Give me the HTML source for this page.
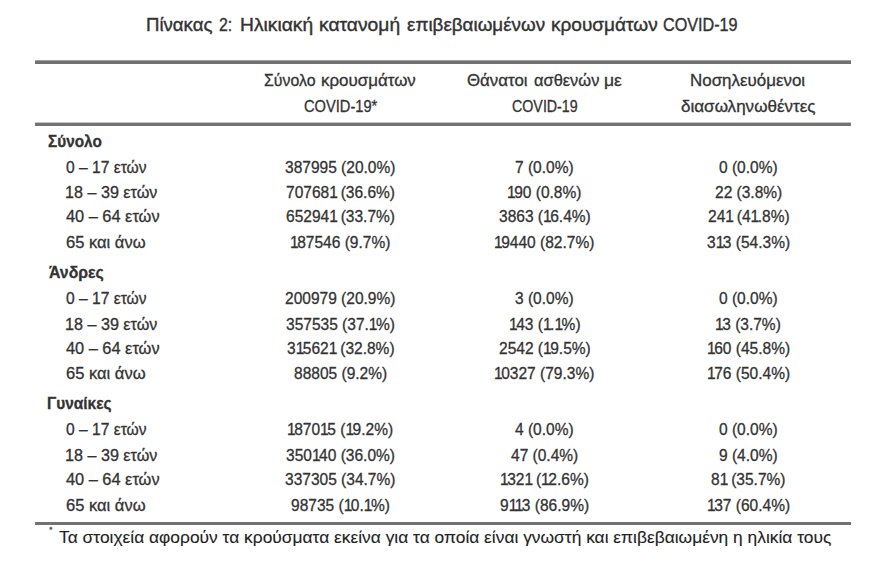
<!DOCTYPE html>
<html><head><meta charset="utf-8"><style>
html,body{margin:0;padding:0;background:#fff;}
body{width:880px;height:565px;position:relative;overflow:hidden;font-family:"Liberation Sans", sans-serif;color:#333333;}
.t{position:absolute;white-space:nowrap;transform-origin:0 0;-webkit-text-stroke:0.3px #333333;}
.ln{position:absolute;}
</style></head><body>
<div class="ln" style="left:35px;top:60px;width:816px;height:4px;background:linear-gradient(#a0a0a0 0,#a0a0a0 1px,#717171 1px);"></div><div class="ln" style="left:35px;top:122px;width:816px;height:4px;background:linear-gradient(#c4c4c4 0,#c4c4c4 1px,#747474 1px);"></div><div class="ln" style="left:35px;top:522px;width:816px;height:3px;background:#727272;"></div>
<div class="t" style="left:146.42px;top:15px;font-size:19px;line-height:19px;-webkit-text-stroke:0.4px #333333;transform:scaleX(0.9791);">Πίνακας</div><div class="t" style="left:219.30px;top:15px;font-size:19px;line-height:19px;-webkit-text-stroke:0.4px #333333;transform:scaleX(0.8333);">2:</div><div class="t" style="left:239.89px;top:15px;font-size:19px;line-height:19px;-webkit-text-stroke:0.4px #333333;transform:scaleX(1.0127);">Ηλικιακή</div><div class="t" style="left:319.09px;top:15px;font-size:19px;line-height:19px;-webkit-text-stroke:0.4px #333333;transform:scaleX(1.0128);">κατανομή</div><div class="t" style="left:407.30px;top:15px;font-size:19px;line-height:19px;-webkit-text-stroke:0.4px #333333;transform:scaleX(0.9906);">επιβεβαιωμένων</div><div class="t" style="left:550.60px;top:15px;font-size:19px;line-height:19px;-webkit-text-stroke:0.4px #333333;transform:scaleX(1.0019);">κρουσμάτων</div><div class="t" style="left:663.25px;top:15px;font-size:19px;line-height:19px;-webkit-text-stroke:0.4px #333333;transform:scaleX(0.8512);">COVID-19</div><div class="t" style="left:263.90px;top:73px;font-size:16px;line-height:16px;transform:scaleX(0.9923);">Σύνολο</div><div class="t" style="left:321.24px;top:73px;font-size:16px;line-height:16px;transform:scaleX(1.0573);">κρουσμάτων</div><div class="t" style="left:467.30px;top:73px;font-size:16px;line-height:16px;transform:scaleX(1.0526);">Θάνατοι</div><div class="t" style="left:534.10px;top:73px;font-size:16px;line-height:16px;transform:scaleX(1.0266);">ασθενών</div><div class="t" style="left:603.91px;top:73px;font-size:16px;line-height:16px;transform:scaleX(1.0933);">με</div><div class="t" style="left:690.44px;top:73px;font-size:16px;line-height:16px;transform:scaleX(1.0574);">Νοσηλευόμενοι</div><div class="t" style="left:303.60px;top:99px;font-size:16px;line-height:16px;transform:scaleX(0.9162);">COVID-19*</div><div class="t" style="left:511.50px;top:99px;font-size:16px;line-height:16px;transform:scaleX(0.8905);">COVID-19</div><div class="t" style="left:681.40px;top:99px;font-size:16px;line-height:16px;transform:scaleX(1.0651);">διασωληνωθέντες</div><div class="t" style="left:48.40px;top:134px;font-size:16px;line-height:16px;font-weight:bold;transform:scaleX(0.9607);">Σύνολο</div><div class="t" style="left:65.80px;top:160px;font-size:16px;line-height:16px;transform:scaleX(0.9747);">0 – 17 ετών</div><div class="t" style="left:285.39px;top:160px;font-size:16px;line-height:16px;transform:scaleX(0.9700);">387995 (20.0%)</div><div class="t" style="left:515.40px;top:160px;font-size:16px;line-height:16px;transform:scaleX(0.9700);">7 (0.0%)</div><div class="t" style="left:719.20px;top:160px;font-size:16px;line-height:16px;transform:scaleX(0.9700);">0 (0.0%)</div><div class="t" style="left:64.79px;top:185px;font-size:16px;line-height:16px;transform:scaleX(1.0089);">18 – 39 ετών</div><div class="t" style="left:285.88px;top:185px;font-size:16px;line-height:16px;transform:scaleX(0.9700);">70768<span style="letter-spacing:-1.5px">1</span> (36.6%)</div><div class="t" style="left:507.15px;top:185px;font-size:16px;line-height:16px;transform:scaleX(0.9700);"><span style="letter-spacing:-1.5px">1</span>90 (0.8%)</div><div class="t" style="left:714.83px;top:185px;font-size:16px;line-height:16px;transform:scaleX(0.9700);">22 (3.8%)</div><div class="t" style="left:65.80px;top:209px;font-size:16px;line-height:16px;transform:scaleX(1.0220);">40 – 64 ετών</div><div class="t" style="left:285.88px;top:209px;font-size:16px;line-height:16px;transform:scaleX(0.9700);">65294<span style="letter-spacing:-1.5px">1</span> (33.7%)</div><div class="t" style="left:498.91px;top:209px;font-size:16px;line-height:16px;transform:scaleX(0.9700);">3863 (<span style="letter-spacing:-1.5px">1</span>6.4%)</div><div class="t" style="left:707.56px;top:209px;font-size:16px;line-height:16px;transform:scaleX(0.9700);">24<span style="letter-spacing:-1.5px">1</span> (4<span style="letter-spacing:-1.5px">1</span>.8%)</div><div class="t" style="left:65.80px;top:235px;font-size:16px;line-height:16px;transform:scaleX(1.0325);">65 και άνω</div><div class="t" style="left:289.76px;top:235px;font-size:16px;line-height:16px;transform:scaleX(0.9700);"><span style="letter-spacing:-1.5px">1</span>87546 (9.7%)</div><div class="t" style="left:494.06px;top:235px;font-size:16px;line-height:16px;transform:scaleX(0.9700);"><span style="letter-spacing:-1.5px">1</span>9440 (82.7%)</div><div class="t" style="left:707.07px;top:235px;font-size:16px;line-height:16px;transform:scaleX(0.9700);">3<span style="letter-spacing:-1.5px">1</span>3 (54.3%)</div><div class="t" style="left:48.90px;top:265px;font-size:16px;line-height:16px;font-weight:bold;transform:scaleX(0.9891);">Άνδρες</div><div class="t" style="left:65.80px;top:291px;font-size:16px;line-height:16px;transform:scaleX(0.9747);">0 – 17 ετών</div><div class="t" style="left:285.39px;top:291px;font-size:16px;line-height:16px;transform:scaleX(0.9700);">200979 (20.9%)</div><div class="t" style="left:515.40px;top:291px;font-size:16px;line-height:16px;transform:scaleX(0.9700);">3 (0.0%)</div><div class="t" style="left:719.20px;top:291px;font-size:16px;line-height:16px;transform:scaleX(0.9700);">0 (0.0%)</div><div class="t" style="left:64.79px;top:317px;font-size:16px;line-height:16px;transform:scaleX(1.0089);">18 – 39 ετών</div><div class="t" style="left:285.88px;top:317px;font-size:16px;line-height:16px;transform:scaleX(0.9700);">357535 (37.<span style="letter-spacing:-1.5px">1</span>%)</div><div class="t" style="left:508.61px;top:317px;font-size:16px;line-height:16px;transform:scaleX(0.9700);"><span style="letter-spacing:-1.5px">1</span>43 (<span style="letter-spacing:-1.5px">1</span>.<span style="letter-spacing:-1.5px">1</span>%)</div><div class="t" style="left:715.32px;top:317px;font-size:16px;line-height:16px;transform:scaleX(0.9700);"><span style="letter-spacing:-1.5px">1</span>3 (3.7%)</div><div class="t" style="left:65.80px;top:341px;font-size:16px;line-height:16px;transform:scaleX(1.0220);">40 – 64 ετών</div><div class="t" style="left:286.85px;top:341px;font-size:16px;line-height:16px;transform:scaleX(0.9700);">3<span style="letter-spacing:-1.5px">1</span>562<span style="letter-spacing:-1.5px">1</span> (32.8%)</div><div class="t" style="left:498.91px;top:341px;font-size:16px;line-height:16px;transform:scaleX(0.9700);">2542 (<span style="letter-spacing:-1.5px">1</span>9.5%)</div><div class="t" style="left:706.59px;top:341px;font-size:16px;line-height:16px;transform:scaleX(0.9700);"><span style="letter-spacing:-1.5px">1</span>60 (45.8%)</div><div class="t" style="left:65.80px;top:366px;font-size:16px;line-height:16px;transform:scaleX(1.0325);">65 και άνω</div><div class="t" style="left:293.64px;top:366px;font-size:16px;line-height:16px;transform:scaleX(0.9700);">88805 (9.2%)</div><div class="t" style="left:494.06px;top:366px;font-size:16px;line-height:16px;transform:scaleX(0.9700);"><span style="letter-spacing:-1.5px">1</span>0327 (79.3%)</div><div class="t" style="left:706.59px;top:366px;font-size:16px;line-height:16px;transform:scaleX(0.9700);"><span style="letter-spacing:-1.5px">1</span>76 (50.4%)</div><div class="t" style="left:47.44px;top:396px;font-size:16px;line-height:16px;font-weight:bold;transform:scaleX(0.9636);">Γυναίκες</div><div class="t" style="left:65.80px;top:422px;font-size:16px;line-height:16px;transform:scaleX(0.9747);">0 – 17 ετών</div><div class="t" style="left:286.85px;top:422px;font-size:16px;line-height:16px;transform:scaleX(0.9700);"><span style="letter-spacing:-1.5px">1</span>870<span style="letter-spacing:-1.5px">1</span>5 (<span style="letter-spacing:-1.5px">1</span>9.2%)</div><div class="t" style="left:515.40px;top:422px;font-size:16px;line-height:16px;transform:scaleX(0.9700);">4 (0.0%)</div><div class="t" style="left:719.20px;top:422px;font-size:16px;line-height:16px;transform:scaleX(0.9700);">0 (0.0%)</div><div class="t" style="left:64.79px;top:448px;font-size:16px;line-height:16px;transform:scaleX(1.0089);">18 – 39 ετών</div><div class="t" style="left:285.88px;top:448px;font-size:16px;line-height:16px;transform:scaleX(0.9700);">350<span style="letter-spacing:-1.5px">1</span>40 (36.0%)</div><div class="t" style="left:511.04px;top:448px;font-size:16px;line-height:16px;transform:scaleX(0.9700);">47 (0.4%)</div><div class="t" style="left:719.20px;top:448px;font-size:16px;line-height:16px;transform:scaleX(0.9700);">9 (4.0%)</div><div class="t" style="left:65.80px;top:472px;font-size:16px;line-height:16px;transform:scaleX(1.0220);">40 – 64 ετών</div><div class="t" style="left:285.39px;top:472px;font-size:16px;line-height:16px;transform:scaleX(0.9700);">337305 (34.7%)</div><div class="t" style="left:499.88px;top:472px;font-size:16px;line-height:16px;transform:scaleX(0.9700);"><span style="letter-spacing:-1.5px">1</span>32<span style="letter-spacing:-1.5px">1</span> (<span style="letter-spacing:-1.5px">1</span>2.6%)</div><div class="t" style="left:711.44px;top:472px;font-size:16px;line-height:16px;transform:scaleX(0.9700);">8<span style="letter-spacing:-1.5px">1</span> (35.7%)</div><div class="t" style="left:65.80px;top:498px;font-size:16px;line-height:16px;transform:scaleX(1.0325);">65 και άνω</div><div class="t" style="left:290.73px;top:498px;font-size:16px;line-height:16px;transform:scaleX(0.9700);">98735 (<span style="letter-spacing:-1.5px">1</span>0.<span style="letter-spacing:-1.5px">1</span>%)</div><div class="t" style="left:500.37px;top:498px;font-size:16px;line-height:16px;transform:scaleX(0.9700);">9<span style="letter-spacing:-1.5px">1</span><span style="letter-spacing:-1.5px">1</span>3 (86.9%)</div><div class="t" style="left:706.59px;top:498px;font-size:16px;line-height:16px;transform:scaleX(0.9700);"><span style="letter-spacing:-1.5px">1</span>37 (60.4%)</div><div class="t" style="left:59.20px;top:529px;font-size:17px;line-height:17px;color:#222222;-webkit-text-stroke:0.1px #222222;transform:scaleX(1.0220);">Τα στοιχεία αφορούν τα κρούσματα εκείνα για τα οποία είναι γνωστή και επιβεβαιωμένη η ηλικία τους</div><div class="t" style="left:49.20px;top:526px;font-size:8px;line-height:8px;color:#555555;">*</div>
</body></html>
